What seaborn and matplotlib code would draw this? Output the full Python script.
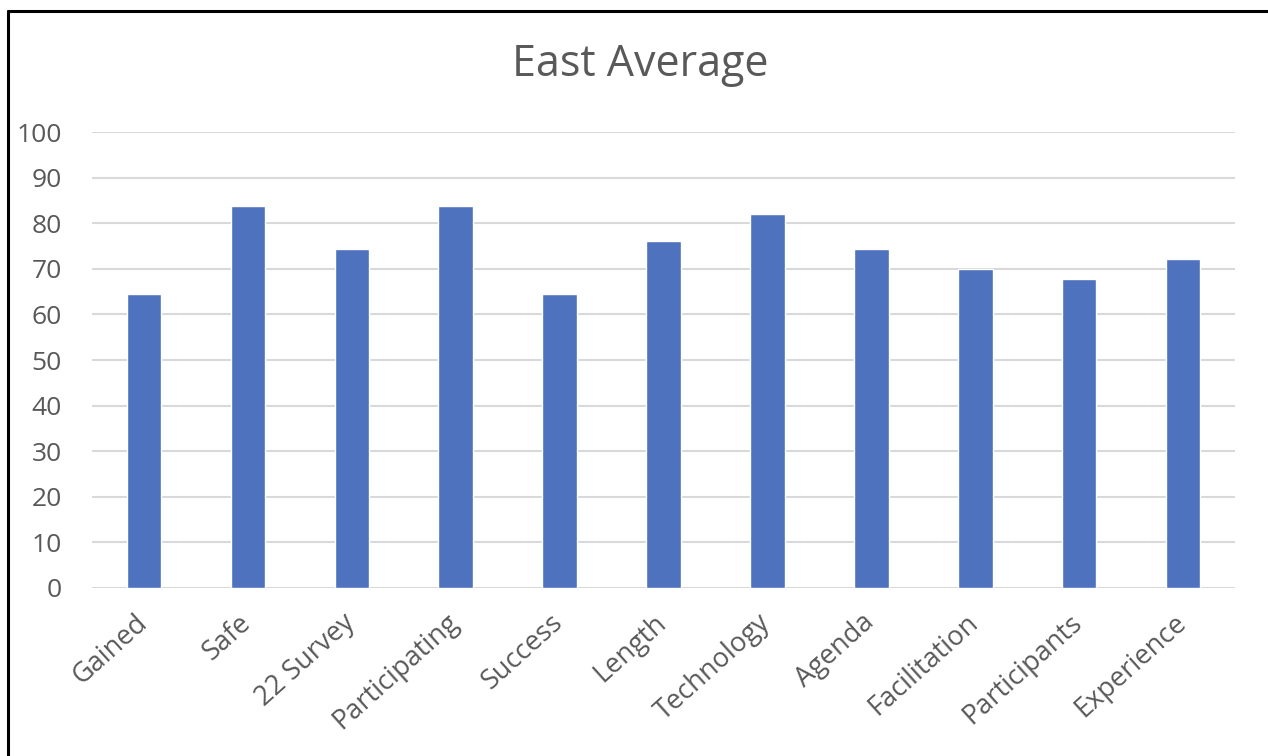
import matplotlib
matplotlib.use("Agg")
import matplotlib.pyplot as plt
from matplotlib.lines import Line2D
from matplotlib.transforms import ScaledTranslation
import seaborn as sns
import pandas as pd

categories = ["Gained", "Safe", "22 Survey", "Participating", "Success", "Length",
              "Technology", "Agenda", "Facilitation", "Participants", "Experience"]
values = [64.5, 83.8, 74.4, 83.8, 64.5, 76.1, 82.1, 74.4, 70.0, 67.8, 72.2]
y_ticks = [0, 10, 20, 30, 40, 50, 60, 70, 80, 90, 100]

sns.set_theme(style="white")
plt.rcParams["font.family"] = ["Open Sans", "DejaVu Sans"]

df = pd.DataFrame({"category": categories, "value": values})

fig = plt.figure(figsize=(12.68, 7.56), dpi=100)
ax = fig.add_axes([0.0726, 0.2226, 0.9014, 0.6024])

sns.barplot(data=df, x="category", y="value", color="#4E72BE", width=0.333,
            saturation=1, ax=ax, zorder=3)

ax.set_ylim(0, 100)
ax.set_xlim(-0.5, len(categories) - 0.5)
ax.set_yticks(y_ticks)
ax.set_yticklabels([str(t) for t in y_ticks], color="#595959", fontsize=19)
ax.yaxis.grid(True, color="#D9D9D9", linewidth=1.5, zorder=0)
ax.xaxis.grid(False)
for s in ax.spines.values():
    s.set_visible(False)
ax.tick_params(axis="y", length=0, pad=22)
ax.tick_params(axis="x", length=0, pad=15)
ax.set_xticks(range(len(categories)))
ax.set_xticklabels(categories, rotation=42, ha="right", rotation_mode="anchor",
                   color="#595959", fontsize=19.5)
shift = ScaledTranslation(-10 / 100, 0, fig.dpi_scale_trans)
for lbl in ax.get_xticklabels():
    lbl.set_transform(lbl.get_transform() + shift)
ax.set_xlabel("")
ax.set_ylabel("")

fig.text(0.505, 0.915, "East Average", ha="center", va="center",
         fontsize=31, color="#595959")

# frame lines along the top and left edges
fig.add_artist(Line2D([0.0063, 1.0], [0.9855, 0.9855], color="black", linewidth=2.2,
                      transform=fig.transFigure))
fig.add_artist(Line2D([0.0063, 0.0063], [0.0, 0.9855], color="black", linewidth=2.2,
                      transform=fig.transFigure))

fig.savefig("out.png", dpi=100, facecolor="white")
